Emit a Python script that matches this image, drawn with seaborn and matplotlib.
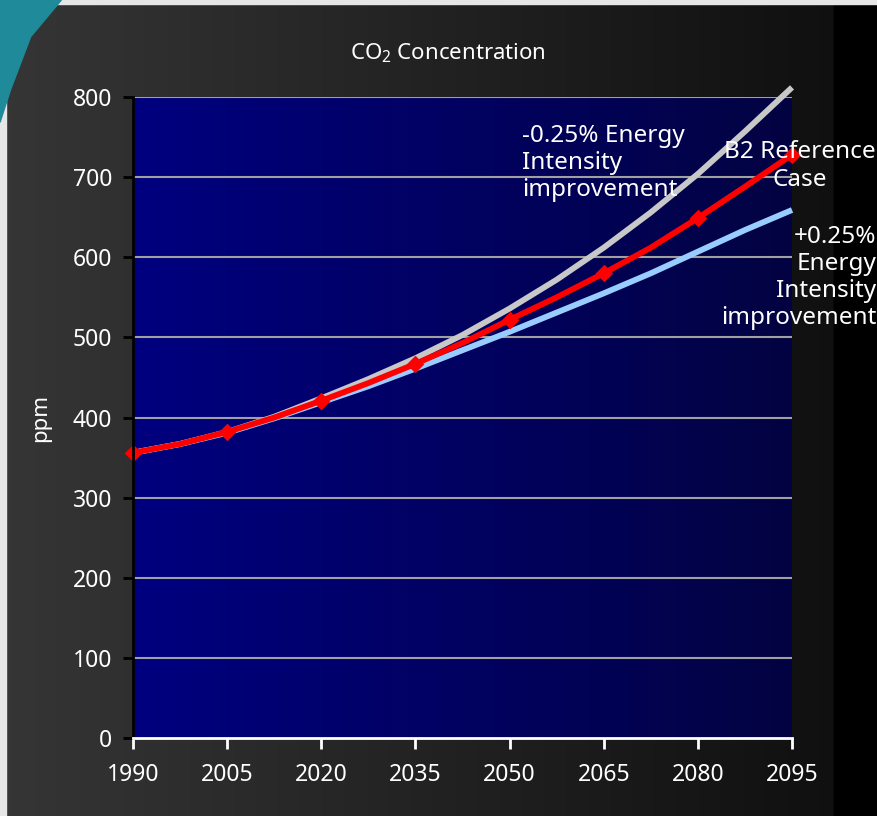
import numpy as np
import pandas as pd
import matplotlib
matplotlib.use('Agg')
import matplotlib.pyplot as plt
from matplotlib.patches import Polygon, Rectangle
import seaborn as sns

# 数据
years = [1990, 1997.5, 2005, 2012.5, 2020, 2027.5, 2035, 2042.5,
         2050, 2057.5, 2065, 2072.5, 2080, 2087.5, 2095]
ppm_minus = [356, 367, 382, 401, 424, 448, 474, 503,
             536, 572, 612, 656, 704, 757, 812]   # -0.25% 灰线
ppm_plus = [356, 367, 381, 399, 419, 439, 461, 484,
            507, 531, 555, 580, 607, 634, 659]    # +0.25% 浅蓝线
ppm_b2 = [356, 367, 382, 400, 421, 443, 467, 493,
          522, 550, 580, 612, 649, 688, 728]      # B2 红线
marker_years = [1990, 2005, 2020, 2035, 2050, 2065, 2080, 2095]

scenarios = ['minus', 'plus', 'b2']
colors = {'minus': '#c8c8c8', 'plus': '#99ccff', 'b2': '#ff0000'}

df = pd.DataFrame({
    'year': years * 3,
    'ppm': ppm_minus + ppm_plus + ppm_b2,
    'scenario': ['minus'] * len(years) + ['plus'] * len(years) + ['b2'] * len(years),
})

sns.set_style('white')
plt.rcParams['font.family'] = ['Noto Sans', 'DejaVu Sans']
plt.rcParams['mathtext.default'] = 'regular'

fig = plt.figure(figsize=(8.77, 8.16), dpi=100)

# 背景（幻灯片底色渐变）
bg = fig.add_axes([0, 0, 1, 1], zorder=-10)
bg.set_axis_off()
xs = np.arange(877)
shade = np.interp(xs, [0, 790, 832, 834, 877], [0.21, 0.07, 0.065, 0.0, 0.0])
img = np.repeat(shade[None, :, None], 3, axis=2)
bg.imshow(img, extent=[0, 1, 0, 1], aspect='auto')
bg.add_patch(Rectangle((0, 0.995), 1, 0.005, color='#e6e6e6'))
bg.add_patch(Rectangle((0, 0), 0.007, 1, color='#e6e6e6'))
bg.add_patch(Polygon([[0, 1], [0.07, 1], [0.035, 0.955], [0.012, 0.89], [0, 0.85]],
                     closed=True, color='#1f8a9a'))
bg.set_xlim(0, 1)
bg.set_ylim(0, 1)

ax = fig.add_axes([0.1517, 0.0956, 0.7514, 0.7855])

# 绘图区渐变
grad = np.linspace(0, 1, 256)
r = np.interp(grad, [0, 1], [0.0, 0.01])
g = np.interp(grad, [0, 1], [0.0, 0.01])
b = np.interp(grad, [0, 1], [0.5, 0.26])
ax.imshow(np.stack([r, g, b], axis=1)[None, :, :], extent=[1990, 2095, 0, 800],
          aspect='auto', zorder=0)

ax.set_yticks(range(0, 801, 100))
ax.set_xticks(marker_years)
for yv in range(100, 801, 100):
    ax.axhline(yv, color='#a0a0a0', lw=1.5, zorder=1)

sns.lineplot(data=df, x='year', y='ppm', hue='scenario', hue_order=scenarios,
             palette=colors, linewidth=4.2, legend=False, sort=False, ax=ax,
             zorder=3)
for line in ax.get_lines()[-3:]:
    line.set_clip_on(False)
    line.set_solid_capstyle('butt')

df_marks = df[(df['scenario'] == 'b2') & (df['year'].isin(marker_years))]
sns.scatterplot(data=df_marks, x='year', y='ppm', marker='D', s=80, color='red',
                edgecolor='red', linewidth=0, ax=ax, zorder=4, clip_on=False)

ax.set_xlim(1990, 2095)
ax.set_ylim(0, 800)
ax.set_xlabel('')
ax.set_ylabel('')
for s in ['top', 'right']:
    ax.spines[s].set_visible(False)
ax.spines['left'].set_color('black')
ax.spines['left'].set_linewidth(2)
ax.spines['bottom'].set_color('white')
ax.spines['bottom'].set_linewidth(2)
ax.spines['left'].set_zorder(5)
ax.spines['bottom'].set_zorder(5)

ax.tick_params(axis='y', colors='black', labelcolor='white', length=7, width=2,
               labelsize=16.5, pad=8, left=True)
ax.tick_params(axis='x', colors='white', labelcolor='white', length=8, width=2,
               labelsize=16.5, pad=10, bottom=True)

fig.text(0.511, 0.935, 'CO$_2$ Concentration', color='white', fontsize=16,
         ha='center', va='center')
fig.text(0.046, 0.488, 'ppm', color='white', fontsize=16, rotation=90,
         ha='center', va='center')

fig.text(0.595, 0.848, '-0.25% Energy\nIntensity\nimprovement', color='white',
         fontsize=17.5, ha='left', va='top', linespacing=1.17)
fig.text(0.912, 0.828, 'B2 Reference\nCase', color='white', fontsize=17.5,
         ha='center', va='top', multialignment='center', linespacing=1.2)
fig.text(0.999, 0.724, '+0.25%\nEnergy\nIntensity\nimprovement', color='white',
         fontsize=17.5, ha='right', va='top', multialignment='right', linespacing=1.17)

fig.savefig('out.png', dpi=100)
